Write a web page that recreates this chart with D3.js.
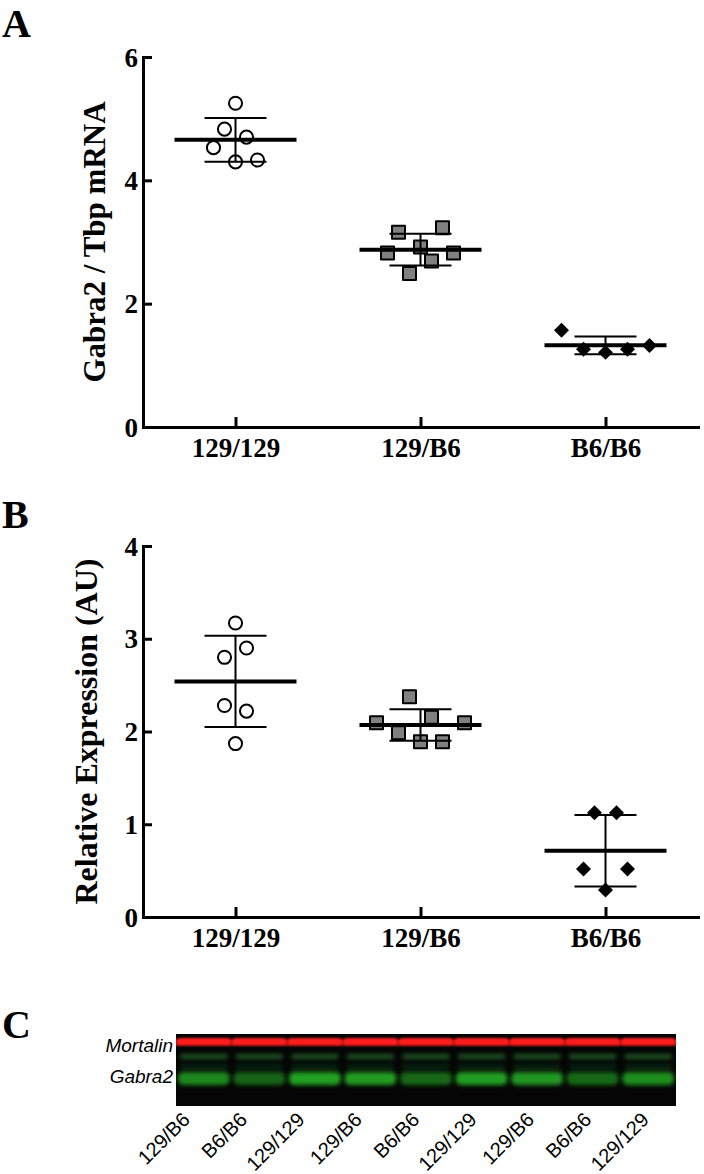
<!DOCTYPE html>
<html>
<head>
<meta charset="utf-8">
<script src="https://cdnjs.cloudflare.com/ajax/libs/d3/7.8.5/d3.min.js"></script>
<style>
	body { margin: 0; background: #fff; }
</style>
</head>
<body>
<script>
// genotypes on the x axis
var groups = ['129/129', '129/B6', 'B6/B6'];

// A: Gabra2 / Tbp mRNA (order inside a row = left to right)
var mrna129 = [5.25, 4.83, 4.70, 4.53, 4.30, 4.33];
var mrnaHet = [3.16, 2.92, 3.23, 2.82, 2.49, 2.69, 2.82];
var mrnaB6 = [1.57, 1.26, 1.21, 1.26, 1.32];
var ticksA = [0, 2, 4, 6];

// B: relative expression (AU)
var prot129 = [3.17, 2.80, 2.90, 2.28, 2.22, 1.87];
var protHet = [2.375, 2.153, 2.095, 1.987, 1.89, 1.89, 2.095];
var protB6 = [1.125, 1.125, 0.518, 0.291, 0.518];
var ticksB = [0, 1, 2, 3, 4];

// C: western blot lanes, relative band strength
var lanes = ['129/B6', 'B6/B6', '129/129', '129/B6', 'B6/B6', '129/129', '129/B6', 'B6/B6', '129/129'];
var mortalinBand = [0.95, 0.9, 0.92, 0.97, 0.93, 0.9, 0.94, 0.92, 0.93];
var gabraBand = [0.72, 0.38, 0.95, 0.9, 0.42, 0.92, 0.85, 0.42, 0.78];

var W = 704, H = 1174;
var serif = '"Liberation Serif", "Times New Roman", serif';
var sans = '"Liberation Sans", Arial, sans-serif';

var svg = d3.select('body').append('svg')
	.attr('width', W).attr('height', H)
	.style('display', 'block');

var x = d3.scalePoint().domain(groups).range([143, 698]).padding(0.5);

function symbolFor(i) {
	if (i === 0) return d3.symbol().type(d3.symbolCircle).size(135)();
	if (i === 1) return d3.symbol().type(d3.symbolSquare).size(169)();
	return d3.symbol().type(d3.symbolSquare).size(112)();
}

// Prism-like column scatter: points close in y share a row, spread 22px apart
function layout(values, y, cx) {
	var idx = d3.range(values.length).sort(function(a, b) { return values[a] - values[b]; });
	var rows = [], row = null;
	idx.forEach(function(i) {
		var py = y(values[i]);
		if (!row || row.y0 - py >= 23.5) {
			row = { y0: py, items: [] };
			rows.push(row);
		}
		row.items.push(i);
	});
	var pts = [];
	rows.forEach(function(r) {
		r.items.sort(d3.ascending);
		r.items.forEach(function(i, k) {
			pts.push({ v: values[i], x: cx + (k - (r.items.length - 1) / 2) * 22, y: y(values[i]) });
		});
	});
	return pts;
}

function drawPanel(o) {
	var y = d3.scaleLinear().domain([0, o.max]).range([o.bottom, o.top]);
	var g = svg.append('g');

	g.append('text')
		.attr('x', 2).attr('y', o.letterY)
		.style('font', 'bold 40px ' + serif)
		.text(o.letter);

	var yAxis = g.append('g')
		.attr('transform', 'translate(143,0)')
		.call(d3.axisLeft(y).tickValues(o.ticks).tickFormat(d3.format('d'))
			.tickSizeInner(-9).tickSizeOuter(0).tickPadding(5));
	var xAxis = g.append('g')
		.attr('transform', 'translate(0,' + o.bottom + ')')
		.call(d3.axisBottom(x).tickSizeInner(-10).tickSizeOuter(0).tickPadding(11));

	[yAxis, xAxis].forEach(function(a) {
		a.select('.domain').attr('stroke-width', 3).attr('stroke-linecap', 'square');
		a.selectAll('.tick line').attr('stroke-width', 3);
		a.selectAll('.tick text')
			.attr('fill', '#000')
			.style('font', 'bold 27px ' + serif);
	});
	yAxis.selectAll('.tick text').attr('dy', '0.34em');
	xAxis.selectAll('.tick text').attr('dy', '0.72em');

	g.append('text')
		.attr('transform', 'translate(' + o.titleX + ',' + ((o.top + o.bottom) / 2) + ') rotate(-90)')
		.attr('text-anchor', 'middle')
		.style('font', 'bold ' + o.titleSize + 'px ' + serif)
		.text(o.title);

	o.series.forEach(function(vals, i) {
		var cx = x(groups[i]);
		var pts = layout(vals, y, cx);
		var sym = symbolFor(i);

		g.append('g').selectAll('path')
			.data(pts)
			.enter().append('path')
			.attr('d', sym)
			.attr('transform', function(d) {
				return 'translate(' + d.x + ',' + d.y + ')' + (i === 2 ? ' rotate(45)' : '');
			})
			.attr('fill', i === 0 ? '#fff' : (i === 1 ? '#808080' : '#000'))
			.attr('stroke', '#000')
			.attr('stroke-width', i === 2 ? 0 : 2)
			.attr('stroke-linejoin', 'round');

		// mean with SD
		var m = d3.mean(vals), sd = d3.deviation(vals);
		var bars = g.append('g').attr('stroke', '#000');
		bars.append('line')
			.attr('x1', cx).attr('x2', cx)
			.attr('y1', y(m + sd)).attr('y2', y(m - sd))
			.attr('stroke-width', 2);
		[m + sd, m - sd].forEach(function(v) {
			bars.append('line')
				.attr('x1', cx - 31).attr('x2', cx + 31)
				.attr('y1', y(v)).attr('y2', y(v))
				.attr('stroke-width', 2);
		});
		bars.append('line')
			.attr('x1', cx - 61).attr('x2', cx + 61)
			.attr('y1', y(m)).attr('y2', y(m))
			.attr('stroke-width', 4);
	});
}

drawPanel({
	letter: 'A', letterY: 37,
	top: 57, bottom: 427, max: 6, ticks: ticksA,
	title: 'Gabra2 / Tbp mRNA', titleX: 105, titleSize: 31,
	series: [mrna129, mrnaHet, mrnaB6]
});

drawPanel({
	letter: 'B', letterY: 528,
	top: 546, bottom: 917, max: 4, ticks: ticksB,
	title: 'Relative Expression (AU)', titleX: 97, titleSize: 32,
	series: [prot129, protHet, protB6]
});

// C: blot
svg.append('text')
	.attr('x', 2).attr('y', 1038)
	.style('font', 'bold 40px ' + serif)
	.text('C');

var blotTop = 1034, blotBottom = 1106;
var lx = d3.scaleBand().domain(d3.range(lanes.length)).range([176, 676]);
var labelX = d3.scalePoint().domain(d3.range(lanes.length)).range([191, 650]);

var defs = svg.append('defs');
defs.append('filter').attr('id', 'softRed')
	.attr('x', '-10%').attr('y', '-80%').attr('width', '120%').attr('height', '260%')
	.append('feGaussianBlur').attr('stdDeviation', 1.3);
defs.append('filter').attr('id', 'softGreen')
	.attr('x', '-10%').attr('y', '-80%').attr('width', '120%').attr('height', '260%')
	.append('feGaussianBlur').attr('stdDeviation', 2.3);
defs.append('clipPath').attr('id', 'blotClip')
	.append('rect')
	.attr('x', 176).attr('y', blotTop).attr('width', 500).attr('height', blotBottom - blotTop);

svg.append('rect')
	.attr('x', 176).attr('y', blotTop)
	.attr('width', 500).attr('height', blotBottom - blotTop)
	.attr('fill', '#050505');

var clip = svg.append('g').attr('clip-path', 'url(#blotClip)');
var green = clip.append('g').attr('filter', 'url(#softGreen)');
var red = clip.append('g').attr('filter', 'url(#softRed)');

// faint continuous red under the Mortalin band
red.append('rect')
	.attr('x', 170).attr('y', 1039).attr('width', 512).attr('height', 7)
	.attr('fill', '#b01414');

lanes.forEach(function(d, i) {
	var x0 = lx(i) + 1, w = lx.bandwidth() - 2;
	var r = Math.round(205 + 50 * mortalinBand[i]);
	red.append('rect')
		.attr('x', x0).attr('y', 1038).attr('width', w).attr('height', 7).attr('rx', 3)
		.attr('fill', 'rgb(' + r + ',28,28)');
	green.append('rect')
		.attr('x', x0 + 3).attr('y', 1054).attr('width', w - 6).attr('height', 5).attr('rx', 2)
		.attr('fill', '#1b5220');
	green.append('rect')
		.attr('x', x0 + 3).attr('y', 1065).attr('width', w - 6).attr('height', 3)
		.attr('fill', '#103512');
	var gv = Math.round(60 + 105 * gabraBand[i]);
	green.append('rect')
		.attr('x', x0 + 1).attr('y', 1072).attr('width', w - 2).attr('height', 13).attr('rx', 5)
		.attr('fill', 'rgb(' + Math.round(gv * 0.22) + ',' + gv + ',' + Math.round(gv * 0.22) + ')');
});

svg.append('text')
	.attr('x', 173).attr('y', 1052)
	.attr('text-anchor', 'end')
	.style('font', 'italic 19px ' + sans)
	.text('Mortalin');
svg.append('text')
	.attr('x', 173).attr('y', 1083)
	.attr('text-anchor', 'end')
	.style('font', 'italic 19px ' + sans)
	.text('Gabra2');

svg.append('g').selectAll('text')
	.data(lanes)
	.enter().append('text')
	.attr('transform', function(d, i) {
		return 'translate(' + labelX(i) + ',1121) rotate(-45)';
	})
	.attr('text-anchor', 'end')
	.style('font', '20px ' + sans)
	.text(function(d) { return d; });
</script>
</body>
</html>
